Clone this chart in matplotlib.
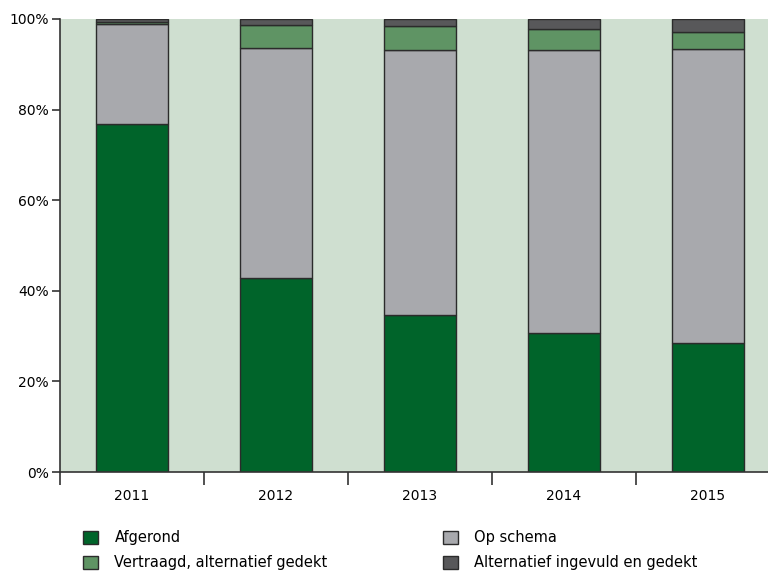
import matplotlib
matplotlib.use('Agg')
import matplotlib.pyplot as plt
import numpy as np
from matplotlib.patches import Patch
from matplotlib.ticker import FuncFormatter

years = ['2011', '2012', '2013', '2014', '2015']
afgerond = [76.8, 42.8, 34.7, 30.7, 28.5]
op_schema = [22.2, 50.8, 58.5, 62.5, 64.9]
vertraagd = [0.3, 5.1, 5.3, 4.5, 3.7]
alternatief = [0.7, 1.3, 1.5, 2.3, 2.9]

labels = ['Afgerond', 'Op schema', 'Vertraagd, alternatief gedekt',
          'Alternatief ingevuld en gedekt']
colors = ['#00642a', '#a8a9ad', '#5f9464', '#58585a']
series = [afgerond, op_schema, vertraagd, alternatief]

plt.rcParams['font.family'] = ['DejaVu Sans']

fig = plt.figure(figsize=(7.68, 5.72), dpi=100)
ax = fig.add_axes([60 / 768, 1 - 472 / 572, 720 / 768, 453 / 572])
ax.set_facecolor('#cfdfd0')

x = np.arange(len(years))
bottom = np.zeros(len(years))
for vals, col in zip(series, colors):
    ax.bar(x, vals, bottom=bottom, width=0.5, color=col,
           edgecolor='#2b2b2b', linewidth=1.0)
    bottom += np.array(vals)

ax.set_xlim(-0.5, 4.5)
ax.set_ylim(0, 100)
ax.set_yticks([0, 20, 40, 60, 80, 100])
ax.yaxis.set_major_formatter(FuncFormatter(lambda v, p: '%d%%' % v))
ax.set_xticks(np.arange(-0.5, 5, 1.0))
ax.set_xticklabels([])
ax.set_xticks(x, minor=True)
ax.set_xticklabels(years, minor=True)
ax.tick_params(axis='x', which='minor', length=0, pad=12, labelsize=10)
ax.tick_params(axis='x', which='major', direction='out', length=9,
               width=1.2, color='#333333')
ax.tick_params(axis='y', direction='out', length=6, width=1.2,
               color='#333333', labelsize=10, pad=2)
for s in ['top', 'right']:
    ax.spines[s].set_visible(False)
for s in ['left', 'bottom']:
    ax.spines[s].set_color('#333333')
    ax.spines[s].set_linewidth(1.2)

order = [0, 2, 1, 3]
handles = [Patch(facecolor=colors[i], edgecolor='#2b2b2b', linewidth=1.0)
           for i in order]
fig.legend(handles, [labels[i] for i in order], ncol=2,
           loc='upper left', bbox_to_anchor=(70 / 768, 1 - 517 / 572),
           frameon=False, fontsize=10.5, handlelength=1.0,
           handleheight=1.0, handletextpad=1.15, columnspacing=7.9,
           labelspacing=0.7)

fig.savefig('out.png', dpi=100)
